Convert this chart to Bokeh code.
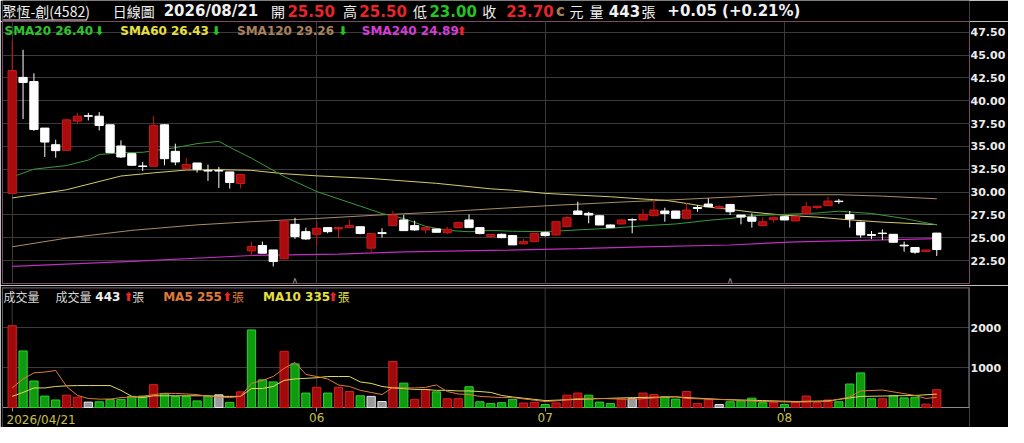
from bokeh.plotting import figure
from bokeh.layouts import column
from bokeh.models import Range1d, FixedTicker, LinearAxis, PrintfTickFormatter, ColumnDataSource
from bokeh.core.properties import value
from bokeh.embed import file_html
from bokeh.resources import INLINE

# ---------------- data ----------------
stock_name = "聚恆-創(4582)"
chart_kind = "日線圖"
last_date = "2026/08/21"
month_ticks = [0, 28, 49, 71]
month_labels = ["2026/04/21", "06", "07", "08"]

open_px = [29.85, 42.55, 42.09, 37.00, 35.18, 34.56, 37.76, 38.35, 38.30, 37.36,
           35.04, 34.20, 32.85, 32.82, 37.36, 34.45, 32.56, 33.18, 32.35, 32.35,
           32.20, 30.93, 23.55, 24.14, 23.66, 22.68, 26.46, 25.66, 25.37, 26.10,
           25.95, 26.10, 26.20, 23.85, 25.55, 26.32, 26.94, 26.32, 25.85, 25.95,
           25.55, 26.10, 26.94, 26.10, 25.12, 25.37, 25.23, 24.32, 24.57, 25.55,
           25.30, 26.21, 27.92, 27.66, 27.40, 26.39, 26.50, 26.98, 26.94, 27.40,
           27.92, 27.92, 27.12, 28.30, 28.68, 28.25, 28.64, 27.48, 27.26, 26.32,
           26.97, 27.30, 26.83, 27.66, 28.30, 28.50, 29.00, 27.52, 26.68, 25.35,
           25.50, 25.37, 24.18, 23.92, 23.48, 25.50]
high_px = [46.55, 45.58, 43.00, 37.00, 35.73, 38.02, 38.67, 38.67, 38.75, 37.36,
           35.65, 34.20, 33.29, 38.31, 37.44, 35.29, 33.73, 33.18, 33.00, 32.75,
           32.20, 31.91, 24.57, 24.57, 23.66, 26.94, 27.19, 26.10, 26.75, 26.10,
           26.20, 27.00, 26.20, 25.45, 26.03, 27.95, 27.48, 26.86, 26.10, 25.95,
           26.20, 26.65, 27.55, 26.10, 25.41, 25.45, 25.23, 24.86, 25.48, 25.66,
           26.75, 27.40, 28.94, 27.84, 27.45, 26.45, 27.05, 27.12, 28.13, 29.19,
           28.28, 27.95, 28.75, 28.57, 29.30, 28.57, 28.64, 27.48, 27.66, 27.23,
           27.23, 27.35, 27.30, 28.94, 28.45, 29.50, 29.23, 27.92, 26.75, 25.73,
           25.90, 25.40, 24.57, 23.92, 23.65, 25.50]
low_px = [29.80, 38.00, 36.70, 33.84, 33.76, 34.56, 37.50, 37.84, 36.75, 34.31,
          33.73, 32.85, 32.31, 32.82, 32.93, 32.93, 32.56, 32.13, 31.22, 30.45,
          30.38, 30.38, 22.94, 23.30, 21.85, 22.68, 24.86, 24.75, 24.20, 25.48,
          24.94, 26.10, 25.37, 23.30, 25.00, 26.32, 25.77, 25.74, 25.48, 25.59,
          25.37, 26.03, 26.10, 25.37, 25.00, 24.94, 24.21, 24.32, 24.57, 25.12,
          25.23, 26.10, 27.55, 26.57, 26.39, 26.05, 26.45, 25.48, 26.94, 27.40,
          26.75, 27.12, 27.12, 27.84, 28.39, 28.20, 27.48, 26.46, 26.10, 26.32,
          26.65, 26.94, 26.83, 27.66, 28.10, 28.50, 28.70, 26.10, 25.00, 24.86,
          24.75, 24.50, 23.48, 23.23, 23.40, 23.00]
close_px = [43.30, 42.00, 36.85, 35.47, 34.53, 37.90, 38.30, 38.30, 37.29, 34.31,
            33.84, 32.93, 32.80, 37.29, 33.65, 33.29, 33.00, 32.49, 32.30, 32.30,
            31.04, 31.91, 24.03, 23.30, 22.39, 26.83, 25.12, 24.86, 26.03, 25.66,
            26.10, 26.32, 25.45, 25.45, 25.45, 27.48, 25.77, 25.85, 26.10, 25.59,
            25.92, 26.65, 26.10, 25.45, 25.35, 25.00, 24.21, 24.57, 25.48, 25.23,
            26.75, 27.19, 27.55, 27.48, 26.39, 26.10, 26.94, 26.94, 27.55, 28.03,
            27.66, 27.12, 28.03, 28.20, 28.39, 28.39, 27.84, 27.26, 26.80, 26.75,
            27.23, 26.94, 27.30, 28.39, 28.45, 29.01, 28.95, 27.05, 25.30, 25.25,
            25.45, 24.50, 24.10, 23.41, 23.65, 23.70]
volume = [2045, 1414, 662, 286, 188, 308, 256, 135, 143, 203,
          203, 278, 286, 571, 353, 271, 271, 165, 278, 316,
          128, 391, 1940, 692, 639, 1406, 1090, 361, 504, 361,
          504, 399, 293, 278, 150, 1150, 609, 203, 451, 391,
          218, 218, 519, 143, 98, 120, 203, 113, 128, 75,
          113, 308, 361, 308, 135, 98, 210, 218, 361, 323,
          271, 210, 399, 98, 196, 75, 143, 165, 233, 120,
          128, 75, 128, 286, 120, 188, 143, 587, 865, 218,
          218, 301, 241, 256, 83, 443]
# +1 close above previous close, -1 below, 0 unchanged
vol_dir = [1, -1, -1, -1, -1, 1, 1, 0, -1, -1,
           -1, -1, -1, 1, -1, -1, -1, -1, -1, 0,
           -1, 1, -1, -1, -1, 1, -1, -1, 1, -1,
           1, 1, -1, 0, 0, 1, -1, 1, 1, -1,
           1, 1, -1, -1, -1, -1, -1, 1, 1, -1,
           1, 1, 1, -1, -1, -1, 1, 0, 1, 1,
           -1, -1, 1, 1, 1, 0, -1, -1, -1, -1,
           1, -1, 1, 1, 1, 1, -1, -1, -1, -1,
           1, -1, -1, -1, 1, 1]

sma20_x = [0, 2, 5, 7, 8, 10, 12, 15, 17, 19, 20, 21, 22, 25, 28, 32, 34, 36, 38, 40,
           42, 44, 46, 49, 52, 55, 58, 61, 64, 66, 68, 71, 74, 76, 79, 82, 85]
sma20_y = [31.65, 32.5, 32.9, 33.5, 34.1, 34.3, 34.35, 34.85, 35.3, 35.55, 34.9, 34.3,
           33.7, 31.7, 30.05, 28.45, 27.65, 27.1, 26.25, 25.8, 25.65, 25.8, 25.7, 25.66,
           25.85, 26.03, 26.3, 26.5, 26.9, 27.1, 27.4, 27.55, 27.7, 27.9, 27.65, 27.1, 26.40]
sma60_x = [0, 2, 5, 8, 10, 13, 16, 19, 22, 25, 28, 33, 39, 44, 46, 49, 52, 55, 58,
           60, 62, 64, 66, 68, 71, 74, 77, 80, 85]
sma60_y = [29.35, 29.7, 30.25, 31.15, 31.75, 32.1, 32.4, 32.45, 32.37, 32.0, 31.77, 31.48,
           30.95, 30.35, 30.2, 29.85, 29.66, 29.48, 29.23, 29.1, 28.75, 28.35, 28.1, 27.8,
           27.45, 27.25, 26.95, 26.7, 26.43]
sma120_x = [0, 5, 11, 17, 22, 28, 34, 40, 44, 50, 56, 60, 66, 70, 76, 80, 85]
sma120_y = [24.0, 24.95, 25.8, 26.4, 26.75, 27.1, 27.5, 27.85, 28.15, 28.55, 28.9, 29.1,
            29.45, 29.7, 29.7, 29.55, 29.26]
sma240_x = [0, 11, 22, 30, 36, 44, 52, 58, 66, 72, 80, 85]
sma240_y = [21.85, 22.4, 23.05, 23.2, 23.45, 23.6, 23.8, 24.0, 24.2, 24.55, 24.75, 24.89]
sma_arrow = ["⬇", "⬇", "⬇", "⬆"]

ma5_x = list(range(47)) + [49, 50, 52, 54, 57, 61, 62, 65, 69, 72, 75, 77, 78, 80, 83, 84, 85]
ma5_y = [489, 714, 865, 887, 925, 526, 301, 226, 210, 210, 248, 263, 278, 323, 353, 353,
         338, 323, 278, 263, 248, 278, 602, 677, 775, 978, 1128, 827, 775, 714, 564, 526,
         429, 376, 323, 504, 489, 489, 504, 564, 399, 338, 323, 278, 263, 248, 248,
         150, 165, 226, 226, 203, 278, 226, 203, 150, 135, 150, 263, 414, 436, 301, 226, 255]
ma10_x = list(range(47)) + [49, 52, 57, 61, 65, 69, 72, 75, 78, 80, 83, 85]
ma10_y = [278, 376, 489, 489, 526, 541, 549, 549, 549, 549, 429, 278, 248, 293, 293, 293,
          293, 293, 293, 278, 278, 278, 474, 474, 526, 677, 714, 729, 744, 775, 775, 775,
          639, 602, 526, 489, 474, 451, 451, 429, 429, 414, 414, 399, 376, 301, 263,
          173, 203, 248, 263, 203, 173, 150, 165, 278, 286, 301, 335]
marker_idx = [26, 66]

price_ticks = [22.5, 25.0, 27.5, 30.0, 32.5, 35.0, 37.5, 40.0, 42.5, 45.0, 47.5]
vol_ticks = [1000, 2000]

# ---------------- layout constants ----------------
BG = "black"
GRID = "#3a3a3a"
RED = "#e8262a"
GREEN = "#22c422"
WHITE = "#f0f0f0"
NUM_FONT = "DejaVu Sans"
CJK_FONT = "Noto Sans CJK TC"
W = 1008
FL, FR = 2, 971            # frame left / right (canvas px)
X0 = (FL - 11.7) / 10.9
X1 = (FR - 11.7) / 10.9
PXX = (FR - FL) / (X1 - X0)


def px2x(cx):
    return X0 + (cx - FL) / PXX


xr = Range1d(X0, X1)
N = len(close_px)
idx = list(range(N))


def style_yaxis(a):
    a.axis_line_color = None
    a.major_tick_line_color = None
    a.minor_tick_line_color = None
    a.major_tick_in = 0
    a.major_tick_out = 0
    a.minor_tick_in = 0
    a.minor_tick_out = 0
    a.major_label_text_color = "#ececec"
    a.major_label_text_font = NUM_FONT
    a.major_label_text_font_style = "bold"
    a.major_label_text_font_size = "11px"
    a.major_label_standoff = 1


# ---------------- title strip ----------------
TH = 21
t = figure(width=W, height=TH, x_range=Range1d(0, W), y_range=Range1d(0, TH), title=None,
           toolbar_location=None, output_backend="svg", background_fill_color=BG,
           border_fill_color=BG, min_border=0, x_axis_location=None,
           y_axis_location=None, outline_line_color=None)
t.xgrid.visible = False
t.ygrid.visible = False

chg = close_px[-1] - close_px[-2]
pct = chg / close_px[-2] * 100
title_items = [
    (stock_name, 0, WHITE, CJK_FONT, "14px", "normal"),
    (chart_kind, 115, WHITE, CJK_FONT, "14px", "normal"),
    (last_date, 168, WHITE, NUM_FONT, "15px", "bold"),
    ("開", 280, WHITE, CJK_FONT, "14px", "normal"),
    (f"{open_px[-1]:.2f}", 297, RED, NUM_FONT, "15px", "bold"),
    ("高", 355, WHITE, CJK_FONT, "14px", "normal"),
    (f"{high_px[-1]:.2f}", 372, RED, NUM_FONT, "15px", "bold"),
    ("低", 428, WHITE, CJK_FONT, "14px", "normal"),
    (f"{low_px[-1]:.2f}", 445, GREEN, NUM_FONT, "15px", "bold"),
    ("收", 500, WHITE, CJK_FONT, "14px", "normal"),
    (f"{close_px[-1]:.2f}", 525, RED, NUM_FONT, "15px", "bold"),
    ("c", 577, "#a8825c", NUM_FONT, "15px", "bold"),
    ("元", 591, WHITE, CJK_FONT, "14px", "normal"),
    ("量", 612, WHITE, CJK_FONT, "14px", "normal"),
    (f"{volume[-1]}", 632, WHITE, NUM_FONT, "15px", "bold"),
    ("張", 666, WHITE, CJK_FONT, "14px", "normal"),
    (f"{chg:+.2f} ({pct:+.2f}%)", 693, WHITE, NUM_FONT, "15px", "bold"),
]
for txt, x, col, font, size, style in title_items:
    t.text(x=[x], y=[TH - 10.5], text=[txt], text_color=col, text_font=value(font),
           text_font_size=size, text_font_style=style, text_baseline="middle",
           text_align="left")
t.segment(x0=[0], y0=[1.5], x1=[88], y1=[1.5], line_color=WHITE, line_width=1)

# ---------------- price panel ----------------
PPX = 9.132                      # px per price unit
PF_TOP, PF_BOT = 21, 283         # frame top / bottom (canvas px)
PY1 = 47.5 + (31.7 - PF_TOP) / PPX
PY0 = PY1 - (PF_BOT - PF_TOP) / PPX
p1 = figure(width=W, height=(PF_BOT - PF_TOP) + 2, x_range=xr, y_range=Range1d(PY0, PY1),
            title=None, toolbar_location=None, output_backend="svg",
            background_fill_color=BG, border_fill_color=BG, min_border_left=FL,
            min_border_right=W - FR, min_border_top=0, min_border_bottom=2,
            x_axis_location=None, y_axis_location="right", outline_line_color="#7c4a64")


def py(cy):
    return PY1 - (cy - PF_TOP) / PPX


ax = p1.yaxis[0]
ax.ticker = FixedTicker(ticks=price_ticks)
ax.formatter = PrintfTickFormatter(format="%.2f")
style_yaxis(ax)
p1.ygrid.ticker = FixedTicker(ticks=price_ticks)
p1.ygrid.grid_line_color = GRID
p1.xgrid.ticker = FixedTicker(ticks=month_ticks)
p1.xgrid.grid_line_color = GRID

# moving averages
p1.line(sma240_x, sma240_y, line_color="#c22cc2", line_width=1.2)
p1.line(sma120_x, sma120_y, line_color="#a88c68", line_width=1)
p1.line(sma60_x, sma60_y, line_color="#d4cc6a", line_width=1)
p1.line(sma20_x, sma20_y, line_color="#3a9a3a", line_width=1)

# candles
up = [c > o for o, c in zip(open_px, close_px)]
cs = ColumnDataSource(dict(
    x=idx, lo=low_px, hi=high_px,
    top=[max(o, c) for o, c in zip(open_px, close_px)],
    bot=[min(o, c) for o, c in zip(open_px, close_px)],
    wick=["#c81414" if u else "#ffffff" for u in up],
    fill=["#a80c0c" if u else "#ffffff" for u in up],
    edge=["#cc1818" if u else "#ffffff" for u in up],
))
p1.segment(x0="x", y0="lo", x1="x", y1="hi", line_color="wick", line_width=1, source=cs)
p1.vbar(x="x", top="top", bottom="bot", width=0.76, fill_color="fill",
        line_color="edge", line_width=1, source=cs)

# markers near bottom of the price panel
p1.text(x=marker_idx, y=[py(280)] * len(marker_idx), text=["∧"] * len(marker_idx),
        text_color="#8c8c8c", text_font=value(NUM_FONT), text_font_size="10px",
        text_align="center", text_baseline="middle")

# price legend
sma_cols = ["#2ec42e", "#e6e040", "#a8825c", "#d63cd6"]
sma_names = ["SMA20", "SMA60", "SMA120", "SMA240"]
sma_last = [sma20_y[-1], sma60_y[-1], sma120_y[-1], sma240_y[-1]]
leg_px = [4, 120, 237, 362]
arr_px = [94, 211, 338, 457]
for name, val, col, lx, axp, arr in zip(sma_names, sma_last, sma_cols, leg_px, arr_px, sma_arrow):
    p1.text(x=[px2x(lx)], y=[py(30)], text=[f"{name} {val:.2f}"], text_color=col,
            text_font=value(NUM_FONT), text_font_size="12px", text_font_style="bold",
            text_baseline="middle", text_align="left")
    p1.text(x=[px2x(axp)], y=[py(30)], text=[arr], text_color=(GREEN if arr == "⬇" else RED),
            text_font=value(NUM_FONT), text_font_size="12px", text_font_style="bold",
            text_baseline="middle", text_align="left")

# ---------------- volume panel ----------------
VPX = 0.04                       # px per lot
VF_TOP, V_ZERO, CANVAS_H = 287, 407, 427
VY1 = (V_ZERO - VF_TOP) / VPX
VY0 = -(CANVAS_H - V_ZERO) / VPX
p2 = figure(width=W, height=CANVAS_H - (PF_BOT + 2), x_range=xr, y_range=Range1d(VY0, VY1),
            title=None, toolbar_location=None, output_backend="svg",
            background_fill_color=BG, border_fill_color=BG, min_border_left=FL,
            min_border_right=W - FR, min_border_top=VF_TOP - (PF_BOT + 2),
            min_border_bottom=0, x_axis_location=None, y_axis_location="right",
            outline_line_color=None)


def vy(cy):
    return VY1 - (cy - VF_TOP) / VPX


va = p2.yaxis[0]
va.ticker = FixedTicker(ticks=vol_ticks)
style_yaxis(va)
p2.ygrid.ticker = FixedTicker(ticks=vol_ticks)
p2.ygrid.grid_line_color = GRID
p2.xgrid.visible = False

# month grid lines within the volume box
p2.segment(x0=month_ticks, y0=[0] * 4, x1=month_ticks, y1=[VY1] * 4, line_color=GRID, line_width=1)

# volume box border
p2.segment(x0=[X0, X0, X1 - 0.5 / PXX], y0=[0, 0, 0],
           x1=[X1, X0, X1 - 0.5 / PXX], y1=[0, VY1, VY1],
           line_color="#8c8c8c", line_width=1)
p2.segment(x0=[X0], y0=[vy(287.5)], x1=[X1], y1=[vy(287.5)], line_color="#7c4a64", line_width=1)

# x axis drawn at the zero line
xa = LinearAxis(ticker=FixedTicker(ticks=month_ticks), fixed_location=0,
                major_label_overrides={k: v for k, v in zip(month_ticks[1:], month_labels[1:])} | {month_ticks[0]: ""})
xa.axis_line_color = None
xa.major_tick_line_color = "#9a9a9a"
xa.major_tick_in = 0
xa.major_tick_out = 4
xa.minor_tick_line_color = None
xa.major_label_text_color = "#c9c048"
xa.major_label_text_font = NUM_FONT
xa.major_label_text_font_size = "12px"
xa.major_label_standoff = 1
p2.add_layout(xa, "below")
p2.text(x=[px2x(6)], y=[vy(419)], text=[month_labels[0]], text_color="#c9c048",
        text_font=value(NUM_FONT), text_font_size="12px", text_baseline="middle",
        text_align="left")

vfill = {1: "#a00a0a", -1: "#0f9a0f", 0: "#9a9a9a"}
vedge = {1: "#d42020", -1: "#2ed02e", 0: "#e6e6e6"}
vs = ColumnDataSource(dict(x=idx, v=volume, fill=[vfill[d] for d in vol_dir],
                           edge=[vedge[d] for d in vol_dir]))
p2.vbar(x="x", top="v", bottom=0, width=0.76, fill_color="fill", line_color="edge",
        line_width=1, source=vs)
p2.line(ma10_x, ma10_y, line_color="#e0d860", line_width=1)
p2.line(ma5_x, ma5_y, line_color="#e07a3a", line_width=1)

vol_items = [
    ("成交量", 3, "#d8d8d8", CJK_FONT, "normal", "12px"),
    ("成交量", 55, "#d8d8d8", CJK_FONT, "normal", "12px"),
    (f"{volume[-1]}", 95, WHITE, NUM_FONT, "bold", "12px"),
    ("⬆", 123, RED, NUM_FONT, "bold", "12px"),
    ("張", 132, "#d8d8d8", CJK_FONT, "normal", "12px"),
    (f"MA5 {ma5_y[-1]}", 163, "#e07a3a", NUM_FONT, "bold", "12px"),
    ("⬆", 222, RED, NUM_FONT, "bold", "12px"),
    ("張", 232, "#e07a3a", CJK_FONT, "normal", "12px"),
    (f"MA10 {ma10_y[-1]}", 263, "#e6e040", NUM_FONT, "bold", "12px"),
    ("⬆", 328, RED, NUM_FONT, "bold", "12px"),
    ("張", 338, "#e6e040", CJK_FONT, "normal", "12px"),
]
for txt, lx, col, font, style, size in vol_items:
    p2.text(x=[px2x(lx)], y=[vy(296)], text=[txt], text_color=col, text_font=value(font),
            text_font_size=size, text_font_style=style, text_baseline="middle",
            text_align="left")

layout = column(t, p1, p2, spacing=0)
open("out.html", "w").write(file_html(layout, INLINE))
